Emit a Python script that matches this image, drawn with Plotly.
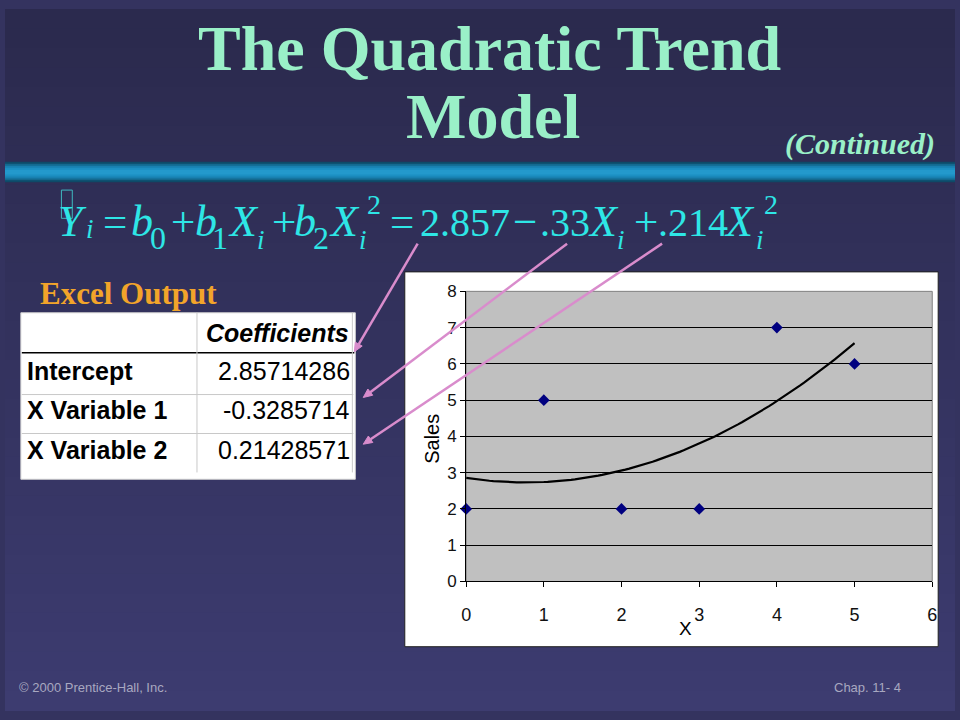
import numpy as np
import plotly.graph_objects as go

W, H = 960, 720

# ---------------- data ----------------
x_vals = [0, 1, 2, 3, 4, 5]
sales = [2, 5, 2, 2, 7, 6]
coef_names = ["Intercept", "X Variable 1", "X Variable 2"]
coef_values = [2.85714286, -0.3285714, 0.21428571]
coef_labels = ["2.85714286", "-0.3285714", "0.21428571"]
x_ticks = [0, 1, 2, 3, 4, 5, 6]
y_ticks = [0, 1, 2, 3, 4, 5, 6, 7, 8]


def X(px):
    return px / W


def Y(py):
    return 1 - py / H


# trend curve from the fitted coefficients
xs = np.linspace(0, 5, 101)
trend = coef_values[0] + coef_values[1] * xs + coef_values[2] * xs ** 2

fig = go.Figure()
fig.add_trace(go.Scatter(x=xs, y=trend, mode="lines",
                         line=dict(color="black", width=2.2),
                         hoverinfo="skip", showlegend=False))
fig.add_trace(go.Scatter(x=x_vals, y=sales, mode="markers",
                         marker=dict(symbol="diamond", size=9, color="#000080",
                                     line=dict(width=0)),
                         cliponaxis=False, showlegend=False))

shapes = []
# background gradient
top = np.array([0x2b, 0x2a, 0x4e])
bot = np.array([0x3d, 0x3c, 0x70])
nb = 36
for k in range(nb):
    c = top + (bot - top) * (k / (nb - 1))
    shapes.append(dict(type="rect", xref="paper", yref="paper",
                       x0=0, x1=1, y0=Y((k + 1) * H / nb + 1), y1=Y(k * H / nb),
                       fillcolor="rgb(%d,%d,%d)" % tuple(c.astype(int)),
                       line=dict(width=0), layer="below"))
# teal band
for (a, b, col) in [(157, 178, "#0e4a68"), (159, 176, "#13698f"),
                    (161, 174, "#1880b0"), (163, 172, "#1c8fc2"), (165, 170, "#2399cc")]:
    shapes.append(dict(type="rect", xref="paper", yref="paper",
                       x0=0, x1=1, y0=Y(b), y1=Y(a), fillcolor=col,
                       line=dict(width=0), layer="below"))
# missing-glyph box over Y
shapes.append(dict(type="rect", xref="paper", yref="paper",
                   x0=X(57), x1=X(68), y0=Y(215), y1=Y(186),
                   fillcolor="rgba(0,0,0,0)", line=dict(color="#3fb8c0", width=1),
                   layer="above"))
# table
shapes.append(dict(type="rect", xref="paper", yref="paper",
                   x0=X(16), x1=X(354), y0=Y(483), y1=Y(312),
                   fillcolor="white", line=dict(color="#d0d0d0", width=1), layer="below"))
for yy in (396, 436):
    shapes.append(dict(type="line", xref="paper", yref="paper",
                       x0=X(17), x1=X(352), y0=Y(yy), y1=Y(yy),
                       line=dict(color="#c8c8c8", width=1), layer="below"))
shapes.append(dict(type="line", xref="paper", yref="paper",
                   x0=X(17), x1=X(353), y0=Y(353), y1=Y(353),
                   line=dict(color="black", width=1.6), layer="below"))
for xx in (194, 351):
    shapes.append(dict(type="line", xref="paper", yref="paper",
                       x0=X(xx), x1=X(xx), y0=Y(312), y1=Y(476),
                       line=dict(color="#c8c8c8", width=1), layer="below"))
# chart frame
shapes.append(dict(type="rect", xref="paper", yref="paper",
                   x0=X(404), x1=X(943), y0=Y(655), y1=Y(270),
                   fillcolor="white", line=dict(color="#202020", width=1), layer="below"))
shapes.append(dict(type="rect", xref="paper", yref="paper",
                   x0=X(466), x1=X(937), y0=Y(588), y1=Y(290),
                   fillcolor="#c0c0c0", line=dict(color="#808080", width=1), layer="below"))

# pink arrows drawn as lines + arrowheads (head, tail) in paper space
PINK = "#d98ccc"
for (hx, hy, tx, ty) in [(353, 352, 417, 241), (362, 399, 568, 241), (362, 447, 664, 241)]:
    d = np.hypot(tx - hx, ty - hy)
    ux, uy = (tx - hx) / d, (ty - hy) / d
    L, Wd = 9.0, 4.0
    bx, by = hx + ux * L, hy + uy * L
    p1 = (bx - uy * Wd, by + ux * Wd)
    p2 = (bx + uy * Wd, by - ux * Wd)
    shapes.append(dict(type="line", xref="paper", yref="paper",
                       x0=X(tx), y0=Y(ty), x1=X(bx), y1=Y(by),
                       line=dict(color=PINK, width=2.5), layer="above"))
    path = "M %f %f L %f %f L %f %f Z" % (X(hx), Y(hy), X(p1[0]), Y(p1[1]),
                                         X(p2[0]), Y(p2[1]))
    shapes.append(dict(type="path", xref="paper", yref="paper", path=path,
                       fillcolor=PINK, line=dict(color=PINK, width=1), layer="above"))

ann = []


def txt(s, x, y, size, color, family="Liberation Serif", xanchor="center",
        yanchor="middle"):
    ann.append(dict(text=s, x=X(x), y=Y(y), xref="paper", yref="paper",
                    xanchor=xanchor, yanchor=yanchor, showarrow=False,
                    font=dict(family=family, size=size, color=color)))


MINT = "#9af0c8"
txt("<b>The Quadratic Trend</b>", 490, 41, 64, MINT)
txt("<b>Model</b>", 493, 110, 64, MINT)
txt("<b><i>(Continued)</i></b>", 864, 139, 30, MINT)
txt("<b>Excel Output</b>", 125, 292, 31, "#f2a42a")

# equation tokens: (text, left px, baseline px, size)
CY = "#2ee6e6"
M = 43     # operators
V = 44     # italic variables
N = 40     # numerals
S = 32     # numeric subscripts
I = 27     # italic i subscripts
eq = [
    ("<i>Y</i>", 52, 233, V), ("<i>i</i>", 80, 235, I), ("=", 97, 233, M),
    ("<i>b</i>", 125, 233, V), ("0", 144, 246, S), ("+", 166, 233, M),
    ("<i>b</i>", 190, 233, V), ("1", 207, 246, S), ("<i>X</i>", 223, 233, V),
    ("<i>i</i>", 253, 246, I), ("+", 268, 233, M), ("<i>b</i>", 290, 233, V),
    ("2", 309, 246, S), ("<i>X</i>", 325, 233, V), ("<i>i</i>", 356, 246, I),
    ("2", 364, 210, 28), ("=", 387, 233, M), ("2.857", 417, 233, N),
    ("\u2212", 511, 233, M), (".33", 539, 233, N), ("<i>X</i>", 587, 233, V),
    ("<i>i</i>", 616, 246, I), ("+", 634, 233, M), (".214", 658, 233, N),
    ("<i>X</i>", 725, 233, V), ("<i>i</i>", 757, 246, I), ("2", 765, 210, 28),
]
for s, lx, bl, sz in eq:
    txt(s, lx, bl - 0.34 * sz, sz, CY, xanchor="left")

# table text
TF = "Liberation Sans"
txt("<b><i>Coefficients</i></b>", 350, 333, 25, "black", TF, xanchor="right")
for i, (nm, lab) in enumerate(zip(coef_names, coef_labels)):
    yy = [372, 412, 453][i]
    txt("<b>" + nm + "</b>", 20, yy, 25, "black", TF, xanchor="left")
    txt(lab, 351, yy, 25, "black", TF, xanchor="right")

# axis titles
ann.append(dict(text="Sales", x=X(432), y=Y(442), xref="paper", yref="paper",
                textangle=-90, showarrow=False,
                font=dict(family=TF, size=20, color="black")))
txt("X", 688, 636, 19, "black", TF)

# footer
txt("\u00a9 2000 Prentice-Hall, Inc.", 12, 697, 13, "#a8a8c0", TF, xanchor="left")
txt("Chap. 11- 4", 836, 697, 13, "#a8a8c0", TF, xanchor="left")

fig.update_layout(
    autosize=True, margin=dict(l=0, r=0, t=0, b=0),
    paper_bgcolor="#34335f", plot_bgcolor="rgba(0,0,0,0)",
    shapes=shapes, annotations=ann, showlegend=False,
    xaxis=dict(domain=[X(466), X(937)], range=[0, 6], tickvals=x_ticks,
               showgrid=False, zeroline=False, showline=True, linecolor="black",
               linewidth=1, ticks="outside", ticklen=5, tickcolor="black",
               ticklabelstandoff=12,
               tickfont=dict(family=TF, size=18, color="#111")),
    yaxis=dict(domain=[Y(588), Y(290)], range=[0, 8], tickvals=y_ticks,
               showgrid=True, gridcolor="black", gridwidth=1, zeroline=False,
               showline=True, linecolor="black", linewidth=1, ticks="outside",
               ticklen=5, tickcolor="black",
               tickfont=dict(family=TF, size=17, color="#111")),
)

fig.write_html("out.html", default_width="100vw", default_height="100vh",
               config={"displayModeBar": False, "responsive": True},
               post_script="document.body.style.margin='0px';"
                           "document.body.style.overflow='hidden';"
                           "document.documentElement.style.background='#3d3c70';")
